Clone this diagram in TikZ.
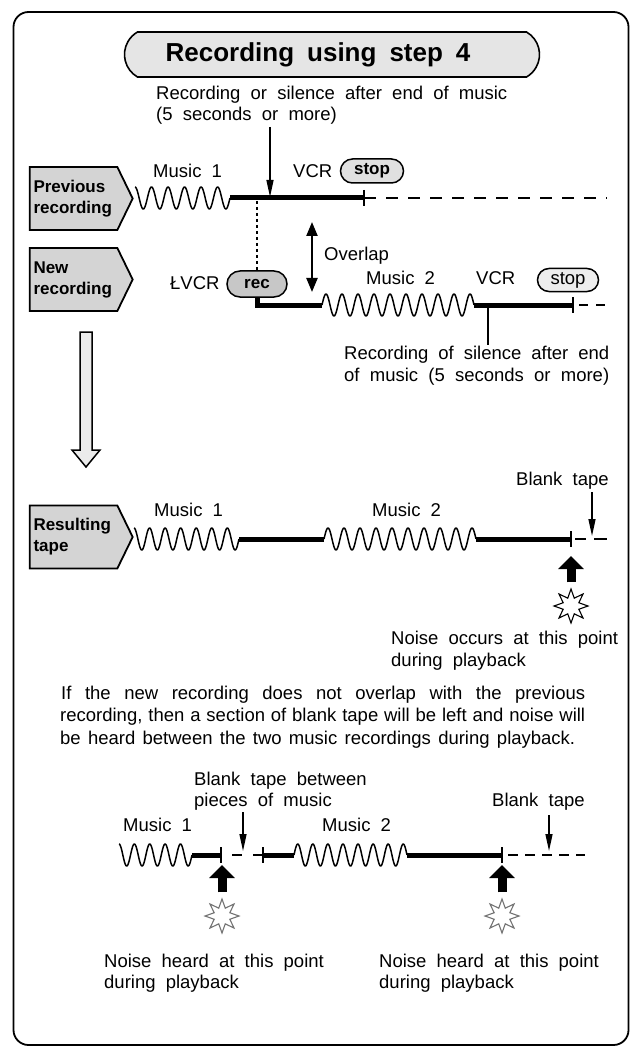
\documentclass[tikz,border=0pt]{standalone}
\usepackage{fontspec}
\setmainfont{Liberation Sans}
\usetikzlibrary{arrows.meta,shapes.geometric,shapes.misc,shapes.symbols}
\newcommand\tf{\fontsize{18.5pt}{22pt}\selectfont\spaceskip=0.55em plus 0.2em minus 0.1em\relax}
\newcommand\tfp{\fontsize{18.5pt}{22pt}\selectfont}
\newcommand\tfb{\fontsize{17pt}{21pt}\selectfont\bfseries}
\newcommand\ttl{\fontsize{26pt}{30pt}\selectfont\bfseries\spaceskip=0.5em\relax}
\newcommand\tapewave[5]{\draw[wavy] plot[domain=0:1,samples=241] ({#1+(#2-#1)*\x},{#3-11*sin(#4+360*#5*\x)});}
\begin{document}
\begin{tikzpicture}[x=1pt,y=-1pt,
  every node/.style={inner sep=0pt},
  txt/.style={font=\tf, anchor=base west},
  ptxt/.style={font=\tfp, anchor=base west},
  boxlbl/.style={signal, signal to=east, signal pointer angle=128, draw, line width=1.8pt,
     fill=black!17, minimum width=103pt, minimum height=63pt, text width=80pt, align=left, font=\tfb},
  pill/.style={rounded rectangle, draw, line width=1.5pt, minimum height=24pt, font=\tf},
  tape/.style={line width=5pt},
  wavy/.style={line width=1.5pt, line join=round},
  tick/.style={line width=1.6pt},
  blank/.style={line width=1.6pt, dash pattern=on 12pt off 10pt},
  thinarrow/.style={line width=1.4pt, -{Triangle[length=17pt,width=7pt]}},
  dblarrow/.style={line width=2.2pt, {Triangle[length=14pt,width=11pt]}-{Triangle[length=14pt,width=11pt]}},
  fat/.style={line width=9pt, -{Triangle[length=13pt,width=25pt]}},
  noise/.style={star, star points=8, star point ratio=2.0, minimum size=34pt, draw, line width=1.1pt, fill=white},
]
\useasboundingbox (0,0) rectangle (635,1048);
\fill[white] (0,0) rectangle (635,1048);
\node[draw, line width=1.8pt, rounded corners=15pt, minimum width=615pt, minimum height=1033pt] (frame) at (321,528.5) {};

% title
\node[rounded rectangle, rounded rectangle arc length=120, draw, line width=1.6pt, fill=black!10,
      minimum width=415pt, minimum height=45pt, font=\ttl] (title) at (332,54.5) {Recording using step 4\hspace*{28pt}};

% ---------- previous / new recording ----------
\node[txt] (t1) at (156,100) {Recording or silence after end of music};
\node[txt] (t2) at (156,121) {(5 seconds or more)};
\coordinate (a1s) at (270,127);
\coordinate (a1e) at (270,197);
\draw[thinarrow] (a1s) -- (a1e);

\node[boxlbl] (prev) at (73.5,198.5) {Previous\\recording};
\node[txt] (mus1a) at (153,178) {Music 1};
\node[txt] (vcr1) at (293,178) {VCR};
\node[pill, fill=black!12, font=\tfb, minimum width=63pt] (stop1) at (372,171) {stop};

\coordinate (w1b) at (230,198);
\coordinate (e1) at (364,198);
\coordinate (d1) at (607,198);
\tapewave{135}{230}{198}{90}{5.75}
\draw[tape] (w1b) -- (e1);
\draw[tick] ([yshift=8pt]e1) -- ([yshift=-8pt]e1);
\draw[blank] (e1) -- (d1);

\node[boxlbl] (new) at (73.5,279.5) {New\\recording};
\node[txt] (vcr2) at (170,290) {ŁVCR};
\node[pill, fill=black!22, font=\tfb, minimum width=60pt, minimum height=26pt] (rec) at (257,284) {rec};
\coordinate (dt) at (257,201);
\draw[line width=1.5pt, dash pattern=on 3pt off 3pt] (dt) -- (rec.north);

\coordinate (ov1) at (312,222);
\coordinate (ov2) at (312,292);
\draw[dblarrow] (ov1) -- (ov2);
\node[txt] (overlap) at (324,261) {Overlap};
\node[txt] (mus2a) at (366,284) {Music 2};
\node[txt] (vcr3) at (476,284) {VCR};
\node[pill, fill=black!7, minimum width=61pt, minimum height=23pt] (stop2) at (568,280) {stop};

\coordinate (m0) at (257,305);
\coordinate (m1) at (322,305);
\coordinate (m2) at (474,305);
\coordinate (m3) at (573,305);
\coordinate (m4) at (579,305);
\coordinate (m5) at (607,305);
\draw[tape, line join=miter] (rec.south) -- (m0) -- (m1);
\tapewave{322}{474}{305}{0}{9.5}
\draw[tape] (m2) -- (m3);
\draw[tick] ([yshift=8pt]m3) -- ([yshift=-8pt]m3);
\draw[line width=1.6pt, dash pattern=on 9pt off 8pt] (m4) -- (m5);

\node[txt] (sil1) at (344,359) {\makebox[265pt][s]{Recording of silence after end}};
\node[txt] (sil2) at (344,381) {\makebox[265pt][s]{of music (5 seconds or more)}};
\coordinate (s0) at (488,308);
\draw[line width=1.3pt] (s0) -- (s0 |- sil1.north);

% hollow arrow
\draw[line width=1.5pt, fill=black!8, line join=miter] (80,332) -- (92,332) -- (92,450) -- (100,450) -- (86,467) -- (72,450) -- (80,450) -- cycle;

% ---------- resulting tape ----------
\node[boxlbl] (res) at (73.5,537) {Resulting\\tape};
\node[txt] (mus1b) at (154,516) {Music 1};
\node[txt] (mus2b) at (372,516) {Music 2};
\node[txt] (blank1) at (516,485) {Blank tape};

\coordinate (r1) at (239,539);
\coordinate (r2) at (324,539);
\coordinate (r3) at (476,539);
\coordinate (r4) at (571,539);
\coordinate (r5) at (575,539);
\coordinate (r6) at (586,539);
\coordinate (r7) at (594,539);
\coordinate (r8) at (607,539);
\tapewave{134}{239}{539}{90}{6.75}
\draw[tape] (r1) -- (r2);
\tapewave{324}{476}{539}{0}{9.5}
\draw[tape] (r3) -- (r4);
\draw[tick] ([yshift=8pt]r4) -- ([yshift=-8pt]r4);
\draw[line width=1.6pt] (r5) -- (r6);
\draw[line width=1.6pt] (r7) -- (r8);
\coordinate (ba1) at (592,492);
\coordinate (ba2) at (592,536);
\draw[thinarrow] (ba1) -- (ba2);

\node[noise] (star1) at (571,606) {};
\coordinate (up1) at (571,556);
\draw[fat] ([yshift=5pt]star1.north) -- (up1);
\node[txt] (noise1) at (391,644) {Noise occurs at this point};
\node[txt] (noise2) at (391,666) {during playback};

% ---------- paragraph ----------
\node[ptxt] (p1) at (61,699) {\makebox[524pt][s]{If the new recording does not overlap with the previous}};
\node[ptxt] (p2) at (60,721) {\makebox[525pt][s]{recording, then a section of blank tape will be left and noise will}};
\node[ptxt] (p3) at (60,744) {\makebox[515pt][s]{be heard between the two music recordings during playback.}};

% ---------- bottom example ----------
\node[txt] (btb1) at (194,785) {Blank tape between};
\node[txt] (btb2) at (194,806) {pieces of music};
\node[txt] (blank2) at (492,806) {Blank tape};
\node[txt] (mus1c) at (123,831) {Music 1};
\node[txt] (mus2c) at (322,831) {Music 2};

\coordinate (b1) at (192,855);
\coordinate (b2) at (221,855);
\coordinate (b3) at (232,855);
\coordinate (b4) at (242,855);
\coordinate (b5) at (253,855);
\coordinate (b6) at (263,855);
\coordinate (b7) at (294,855);
\coordinate (b8) at (407,855);
\coordinate (b9) at (502,855);
\coordinate (b10) at (508,855);
\coordinate (b11) at (585,855);
\tapewave{119}{192}{855}{90}{4.75}
\draw[tape] (b1) -- (b2);
\draw[tick] ([yshift=8pt]b2) -- ([yshift=-8pt]b2);
\draw[line width=1.6pt] (b3) -- (b4);
\draw[line width=1.6pt] (b5) -- (b6);
\draw[tick] ([yshift=8pt]b6) -- ([yshift=-8pt]b6);
\draw[tape] (b6) -- (b7);
\tapewave{294}{407}{855}{0}{7.5}
\draw[tape] (b8) -- (b9);
\draw[tick] ([yshift=8pt]b9) -- ([yshift=-8pt]b9);
\draw[line width=1.6pt, dash pattern=on 10pt off 7pt] (b10) -- (b11);

\coordinate (bb1) at (243,812);
\coordinate (bb2) at (243,851);
\draw[thinarrow] (bb1) -- (bb2);
\coordinate (bc1) at (549,815);
\coordinate (bc2) at (549,851);
\draw[thinarrow] (bc1) -- (bc2);

\node[noise, draw=black!55] (star2) at (222,916) {};
\node[noise, draw=black!55] (star3) at (502,916) {};
\coordinate (up2) at (222,865);
\coordinate (up3) at (502,865);
\draw[fat] ([yshift=5pt]star2.north) -- (up2);
\draw[fat] ([yshift=5pt]star3.north) -- (up3);

\node[txt] (nh1) at (104,967) {Noise heard at this point};
\node[txt] (nh2) at (104,988) {during playback};
\node[txt] (nh3) at (379,967) {Noise heard at this point};
\node[txt] (nh4) at (379,988) {during playback};
\end{tikzpicture}
\end{document}
